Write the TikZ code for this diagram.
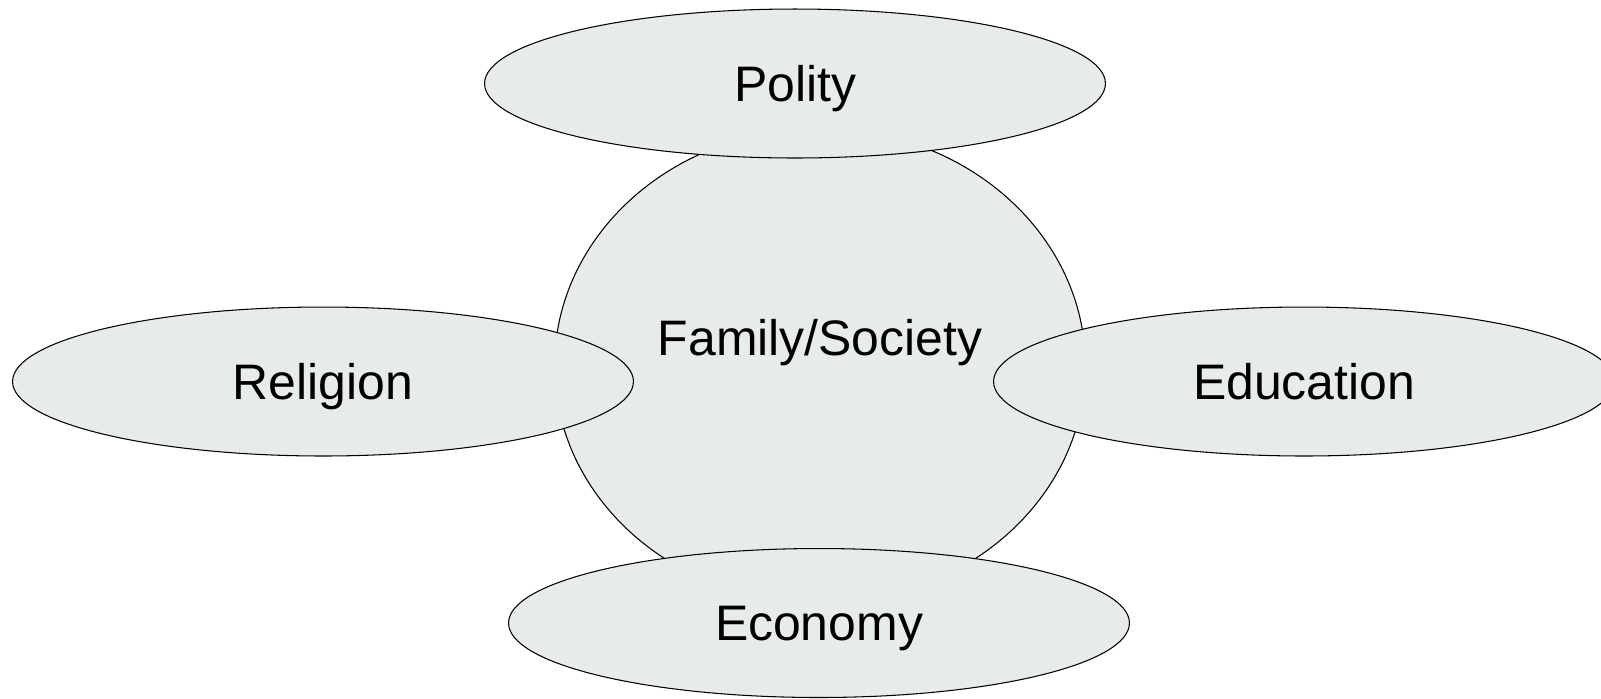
\documentclass[tikz,border=0pt]{standalone}
\usepackage{fontspec}
\setmainfont{Liberation Sans}
\usetikzlibrary{shapes.geometric}

\definecolor{blobgrey}{RGB}{232,235,236}

\begin{document}
\begin{tikzpicture}[x = 0.02cm, y = -0.02cm, % one unit is one pixel of the picture
                line width = 0.6pt % line style
            ]

            \tikzstyle{blob}=[ellipse, draw = black, fill = blobgrey, inner sep = 0pt,
            font = \fontsize{28.4}{34}\selectfont, text height = 0.71cm, text depth = 0cm]
            \tikzstyle{sphere}=[blob, minimum width = 12.42cm, minimum height = 2.98cm]

            \useasboundingbox (0,0) rectangle (1601,698);

            % the family in the middle first, so the others lie over it
            \node[blob, minimum width = 10.62cm, minimum height = 9.5cm] (family) at (820,366) {};
            \node[font = \fontsize{28.4}{34}\selectfont, text height = 0.71cm, text depth = 0cm,
            inner sep = 0pt] (familytext) at (820,338) {Family/Society};

            \node[sphere] (polity) at (795,83.5) {Polity};
            \node[sphere] (religion) at (323,381.5) {Religion};
            \node[sphere] (education) at (1304,381.5) {Education};
            \node[sphere] (economy) at (819,623) {Economy};
\end{tikzpicture}
\end{document}
